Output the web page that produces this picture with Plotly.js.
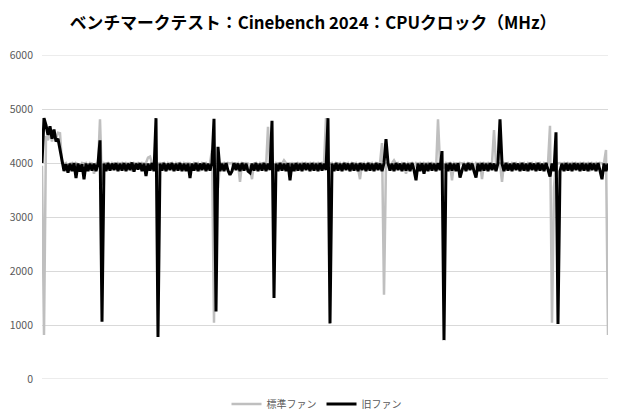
<!DOCTYPE html>
<html>
<head>
<meta charset="utf-8">
<script src="https://cdn.plot.ly/plotly-3.0.1.min.js"></script>
<style>html,body{margin:0;padding:0;background:#fff;}#chart{width:620px;height:420px;}</style>
</head>
<body>
<div id="chart"></div>
<script>
const chartTitle = "ベンチマークテスト：Cinebench 2024：CPUクロック（MHz）";
const seriesNames = ["標準ファン", "旧ファン"];
const yTicks = [0, 1000, 2000, 3000, 4000, 5000, 6000];

// 標準ファン (gray)
const standardFan = [
  3950, 815, 4500, 4420, 4580, 4400, 4550, 4450, 4560, 4550,
  4000, 3980, 4000, 3920, 3990, 4000, 3850, 4000, 3980, 3900,
  4000, 3990, 4000, 3880, 4000, 3990, 3800, 4000, 3950, 4810,
  3600, 4000, 3990, 4000, 3920, 4000, 3990, 3880, 4000, 3990,
  4000, 3900, 4000, 3990, 4000, 3850, 4000, 3990, 4000, 3920,
  4000, 3990, 4000, 4100, 4120, 3990, 4000, 3900, 3990, 4000,
  3990, 4000, 3850, 4000, 3990, 4000, 3900, 4000, 3990, 4000,
  3880, 4000, 3990, 4000, 3990, 3900, 4000, 3990, 4000, 3850,
  4000, 3990, 4000, 3920, 4000, 4240, 1040, 3900, 3540, 4000,
  3990, 4000, 3880, 4000, 3990, 4000, 3900, 3990, 4000, 3650,
  4000, 3990, 4000, 3990, 3880, 3700, 3990, 4000, 3880, 4000,
  3990, 4000, 3900, 4670, 3990, 4000, 3880, 4000, 3990, 4000,
  3990, 4050, 4000, 3900, 3990, 4000, 3990, 3850, 4000, 3990,
  4000, 3920, 4000, 3990, 4000, 3880, 4000, 3990, 4000, 3900,
  4000, 3990, 4830, 4000, 3990, 4000, 3880, 4000, 3990, 4000,
  3920, 4000, 3990, 4000, 3850, 4000, 3990, 4000, 3900, 3700,
  3990, 4000, 3880, 4000, 3990, 4000, 3920, 4000, 3990, 4000,
  4370, 1560, 3990, 4000, 3900, 4000, 4050, 3990, 4000, 3880,
  4000, 3990, 3800, 4000, 3990, 4000, 3900, 4000, 3990, 4000,
  3880, 4000, 3990, 4000, 3920, 4000, 3990, 3850, 4810, 3990,
  4000, 3900, 4000, 3990, 4000, 3680, 4000, 3990, 3880, 4000,
  3990, 4000, 3920, 4000, 3990, 4000, 3880, 4000, 3990, 4000,
  3700, 4000, 3990, 4000, 3900, 4000, 4610, 3990, 4000, 3990,
  3650, 4000, 3990, 4000, 3880, 4000, 3990, 4000, 3920, 4000,
  3990, 4000, 3850, 4000, 3990, 4000, 3900, 4000, 3990, 4000,
  3880, 4000, 3990, 3990, 4690, 1040, 3550, 4000, 3990, 4000,
  3990, 4000, 3900, 4000, 3990, 4000, 3880, 4000, 3990, 4000,
  3920, 4000, 3990, 4000, 3850, 4000, 3990, 4000, 3900, 4000,
  3990, 4000, 4240, 815
];

// 旧ファン (black)
const oldFan = [
  4000, 4830, 4700, 4520, 4680, 4450, 4620, 4400, 4450, 4250,
  4020, 3850, 3980, 3820, 3990, 3850, 4000, 3720, 3990, 3840,
  3980, 3700, 3990, 3850, 3990, 3860, 3990, 3850, 3990, 4420,
  1060, 3990, 3850, 4000, 3860, 3990, 3870, 4000, 3850, 3990,
  3860, 4000, 3850, 3990, 3870, 4010, 3840, 3990, 3880, 4000,
  3850, 3990, 3760, 3990, 3860, 4000, 3850, 4830, 780, 3990,
  3860, 4000, 3850, 3990, 3870, 4000, 3850, 3990, 3860, 4000,
  3850, 3990, 3850, 3990, 3720, 3990, 3860, 4000, 3850, 3990,
  3870, 4000, 3850, 3990, 3860, 4000, 4820, 1250, 4300, 3850,
  3990, 3850, 4000, 3860, 3780, 3850, 4000, 3870, 3990, 3850,
  4000, 3860, 3990, 3850, 3820, 3990, 3860, 4000, 3850, 3990,
  3860, 4000, 3850, 3990, 3870, 4780, 1500, 3990, 3850, 4000,
  3860, 3990, 3850, 4000, 3680, 3990, 3850, 4000, 3860, 3990,
  3850, 4000, 3870, 3990, 3850, 4000, 3860, 3990, 3850, 4000,
  3860, 3990, 3870, 4830, 1030, 3990, 3850, 4000, 3860, 3990,
  3850, 4000, 3870, 3990, 3850, 4000, 3860, 3990, 3850, 4000,
  3870, 3990, 3850, 4000, 3860, 3990, 3850, 4000, 3870, 3990,
  3850, 4000, 4440, 4000, 3860, 3990, 3850, 4000, 3870, 3990,
  3850, 4000, 3860, 3990, 3850, 4000, 3870, 3680, 3990, 3850,
  4000, 3800, 3990, 3850, 4000, 3860, 3990, 3850, 4000, 3870,
  4220, 720, 3990, 3850, 4000, 3860, 3990, 3850, 4000, 3730,
  3860, 3990, 3850, 4000, 3870, 3990, 3850, 3730, 3990, 3850,
  4000, 3860, 3990, 3850, 4000, 3870, 3990, 3850, 4000, 4810,
  3990, 3850, 4000, 3860, 3990, 3850, 4000, 3870, 3990, 3850,
  4000, 3860, 3990, 3850, 4000, 3870, 3990, 3850, 4000, 3860,
  3990, 3850, 4000, 3870, 3750, 3990, 3850, 4570, 1020, 3850,
  3990, 3850, 4000, 3860, 3990, 3850, 4000, 3870, 3990, 3850,
  4000, 3860, 3990, 3850, 4000, 3870, 3990, 3850, 4000, 3860,
  3700, 3990, 3850, 3990
];

const xs1 = standardFan.map((_, i) => i);
const xs2 = oldFan.map((_, i) => i);

const font = "'Noto Sans CJK JP', 'Noto Sans', sans-serif";

const traces = [
  {x: xs1, y: standardFan, name: seriesNames[0], type: 'scatter', mode: 'lines',
   line: {color: '#bfbfbf', width: 2.5}},
  {x: xs2, y: oldFan, name: seriesNames[1], type: 'scatter', mode: 'lines',
   line: {color: '#000000', width: 3}}
];

const layout = {
  width: 620, height: 420,
  margin: {l: 42, r: 12, t: 55, b: 41, autoexpand: false},
  paper_bgcolor: '#ffffff', plot_bgcolor: '#ffffff',
  font: {family: font, color: '#595959', size: 11},
  title: {text: chartTitle, x: 0.505, xanchor: 'center', y: 0.945, yanchor: 'middle',
          font: {family: font, size: 16.8, color: '#000000', weight: 'bold'}},
  xaxis: {range: [0, standardFan.length - 1], showgrid: false, zeroline: false,
          showticklabels: false, showline: false, ticks: ''},
  yaxis: {range: [0, 6000], tickvals: yTicks, ticktext: yTicks.map(String),
          showgrid: true, gridcolor: '#d9d9d9', gridwidth: 1, zeroline: false,
          showline: false, ticks: '', ticklabelstandoff: 8,
          tickfont: {family: font, size: 10.5, color: '#595959'}},
  shapes: [
    {type: 'line', xref: 'paper', yref: 'y', x0: 0, x1: 1, y0: 0, y1: 0,
     line: {color: '#d9d9d9', width: 1}, layer: 'below'},
    {type: 'line', xref: 'paper', yref: 'y', x0: 0, x1: 1, y0: 6000, y1: 6000,
     line: {color: '#d9d9d9', width: 1}, layer: 'below'}
  ],
  showlegend: true,
  legend: {orientation: 'h', x: 0.485, xanchor: 'center', yref: 'container', y: 0.038, yanchor: 'middle',
           font: {family: font, size: 10, color: '#595959'}, itemwidth: 30, tracegroupgap: 0}
};

Plotly.newPlot('chart', traces, layout, {staticPlot: true, displayModeBar: false});
</script>
</body>
</html>
